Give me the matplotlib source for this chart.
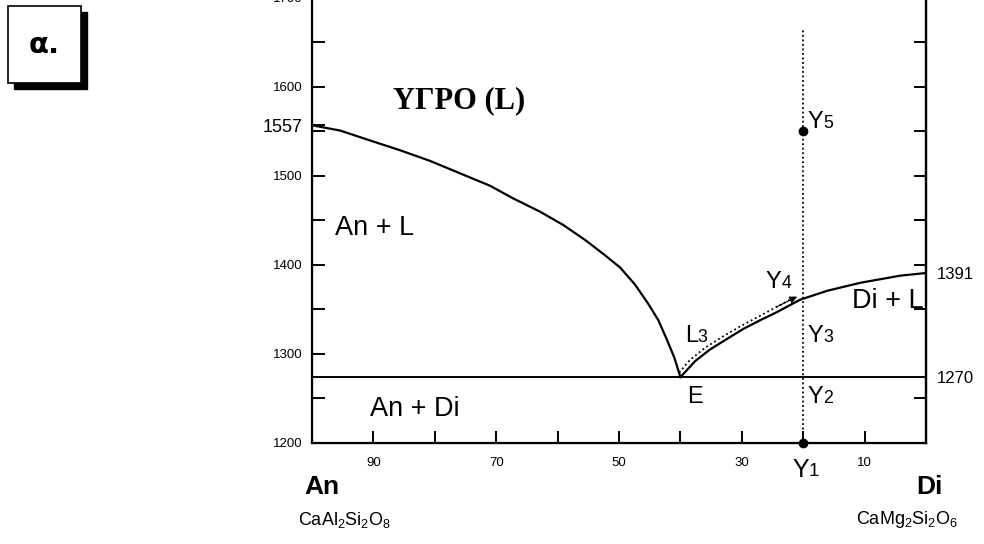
import matplotlib
matplotlib.use("Agg")
import matplotlib.pyplot as plt
from matplotlib.patches import Rectangle

SANS = "Liberation Sans"
SERIF = "Liberation Serif"
plt.rcParams["font.family"] = SANS
plt.rcParams["mathtext.fontset"] = "custom"
plt.rcParams["mathtext.rm"] = SANS

# liquidus curve on the anorthite side (wt% An, T in C)
an_x = [100, 95.4, 90.6, 85.7, 80.8, 75.9, 71, 67.3, 62.9, 59.1, 55.5, 52.3,
        49.8, 47.4, 45.3, 43.6, 42.2, 41, 40]
an_t = [1557, 1551, 1540, 1529, 1517, 1503, 1489, 1475, 1460, 1445, 1428, 1411,
        1397, 1378, 1357, 1338, 1316, 1296, 1274]
# liquidus curve on the diopside side
di_x = [40, 37.6, 35.2, 32.4, 29.8, 27.0, 24.3, 20.5, 16.1, 10.7, 4.2, 0]
di_t = [1274, 1292, 1305, 1317, 1328, 1338, 1347, 1361, 1371, 1380, 1388, 1391]
# crystallisation path of the liquid (dotted arrow E -> Y4)
path_x = [40.2, 38.5, 36, 33, 30, 27, 24.3, 21.4]
path_t = [1279, 1293, 1307, 1320, 1332, 1343, 1353, 1364]
eutectic_t = 1274
# isopleth through Y1..Y5
iso_x = 20
iso_t = [1200, 1665]
y5_t = 1550
y1_t = 1200

left_major = [1200, 1300, 1400, 1500, 1557, 1600, 1700]
left_labels = ["1200", "1300", "1400", "1500", "1557", "1600", "1700"]
left_minor = [1250, 1350, 1450, 1550, 1650]
right_minor = [1250, 1350, 1400, 1450, 1500, 1550, 1600, 1650, 1700]
right_major = [1274, 1391]
right_labels = ["1270", "1391"]
x_major = [90, 70, 50, 30, 10]
x_minor = [80, 60, 40, 20]

fig = plt.figure(figsize=(9.84, 5.44), dpi=100)
ax = fig.add_axes([0.3171, 0.1857, 0.6240, 0.818])
ax.set_xlim(100, 0)
ax.set_ylim(1200, 1700)

for s in ["left", "right", "bottom"]:
    ax.spines[s].set_linewidth(1.6)
ax.spines["top"].set_visible(False)

ax.plot(an_x, an_t, color="black", lw=1.6)
ax.plot(di_x, di_t, color="black", lw=1.6)
ax.axhline(eutectic_t, color="black", lw=1.4)
ax.plot(path_x, path_t, color="black", lw=1.3, ls=(0, (1, 1.6)))
ax.annotate("", xy=(path_x[-1] - 0.4, path_t[-1] + 0.5), xytext=(path_x[-2], path_t[-2]),
            arrowprops=dict(arrowstyle="-|>", color="black", lw=0.8, mutation_scale=11,
                            shrinkA=0, shrinkB=0))
ax.plot([iso_x, iso_x], iso_t, color="black", lw=1.3, ls=(0, (1, 1.5)))
ax.plot([iso_x], [y5_t], "o", color="black", ms=6)
ax.plot([iso_x], [y1_t], "o", color="black", ms=6, clip_on=False, zorder=5)

# ticks
ax.set_yticks(left_major)
ax.set_yticklabels(left_labels)
ax.set_yticks(left_minor, minor=True)
ax.set_xticks(x_major)
ax.set_xticklabels([str(v) for v in x_major])
ax.set_xticks(x_minor, minor=True)
ax.tick_params(which="both", direction="in", length=9, width=1.4)
ax.tick_params(axis="y", which="major", labelsize=9.5, pad=7)
ax.tick_params(axis="x", which="major", labelsize=9.5, pad=10)
ax.get_yticklabels()[4].set_fontsize(13)

ax2 = ax.twinx()
ax2.set_ylim(1200, 1700)
ax2.spines["top"].set_visible(False)
ax2.spines["right"].set_linewidth(1.6)
ax2.set_yticks(right_major)
ax2.set_yticklabels(right_labels)
ax2.set_yticks(right_minor, minor=True)
ax2.tick_params(which="minor", direction="in", length=9, width=1.4)
ax2.tick_params(which="major", length=0, labelsize=12, pad=8)


def sub_label(x, y, main, sub, size=17):
    t = ax.text(x, y, main, fontsize=size, ha="left", va="baseline", clip_on=False)
    ax.annotate(sub, xy=(1, 0), xycoords=t, xytext=(0, 1), textcoords="offset points",
                fontsize=size * 0.75, ha="left", va="bottom", annotation_clip=False)


ax.text(76, 1585, "ΥΓΡΟ (L)", family=SERIF, fontweight="bold", fontsize=22,
        ha="center", va="center")
ax.text(96.3, 1442, "An + L", fontsize=19.5, ha="left", va="center")
ax.text(90.5, 1238, "An + Di", fontsize=19.5, ha="left", va="center")
ax.text(12.1, 1360, "Di + L", fontsize=19.5, ha="left", va="center")
ax.text(38.9, 1245, "E", fontsize=17, ha="left", va="baseline")
sub_label(39.3, 1313, "L", "3")
sub_label(26.1, 1374, "Y", "4")
sub_label(19.3, 1313, "Y", "3")
sub_label(19.3, 1245, "Y", "2")
sub_label(19.3, 1554, "Y", "5")
sub_label(21.8, 1162, "Y", "1", size=18)

# end members under the axis
fig.text(0.327, 0.105, "An", fontsize=19, fontweight="bold", ha="center", va="center")
fig.text(0.945, 0.105, "Di", fontsize=19, fontweight="bold", ha="center", va="center")
fig.text(0.303, 0.045, r"$\mathrm{CaAl_2Si_2O_8}$", fontsize=13, ha="left", va="center")
fig.text(0.974, 0.045, r"$\mathrm{CaMg_2Si_2O_6}$", fontsize=13, ha="right", va="center")

# panel label box with drop shadow
fig.add_artist(Rectangle((0.0142, 0.8364), 0.0742, 0.1415, transform=fig.transFigure,
                         facecolor="black", edgecolor="black"))
fig.add_artist(Rectangle((0.0081, 0.8474), 0.0742, 0.1415, transform=fig.transFigure,
                         facecolor="white", edgecolor="black", lw=1.2))
fig.text(0.0447, 0.917, "α.", family="DejaVu Sans", fontweight="bold", fontsize=21,
         ha="center", va="center")

fig.savefig("out.png", dpi=100)
